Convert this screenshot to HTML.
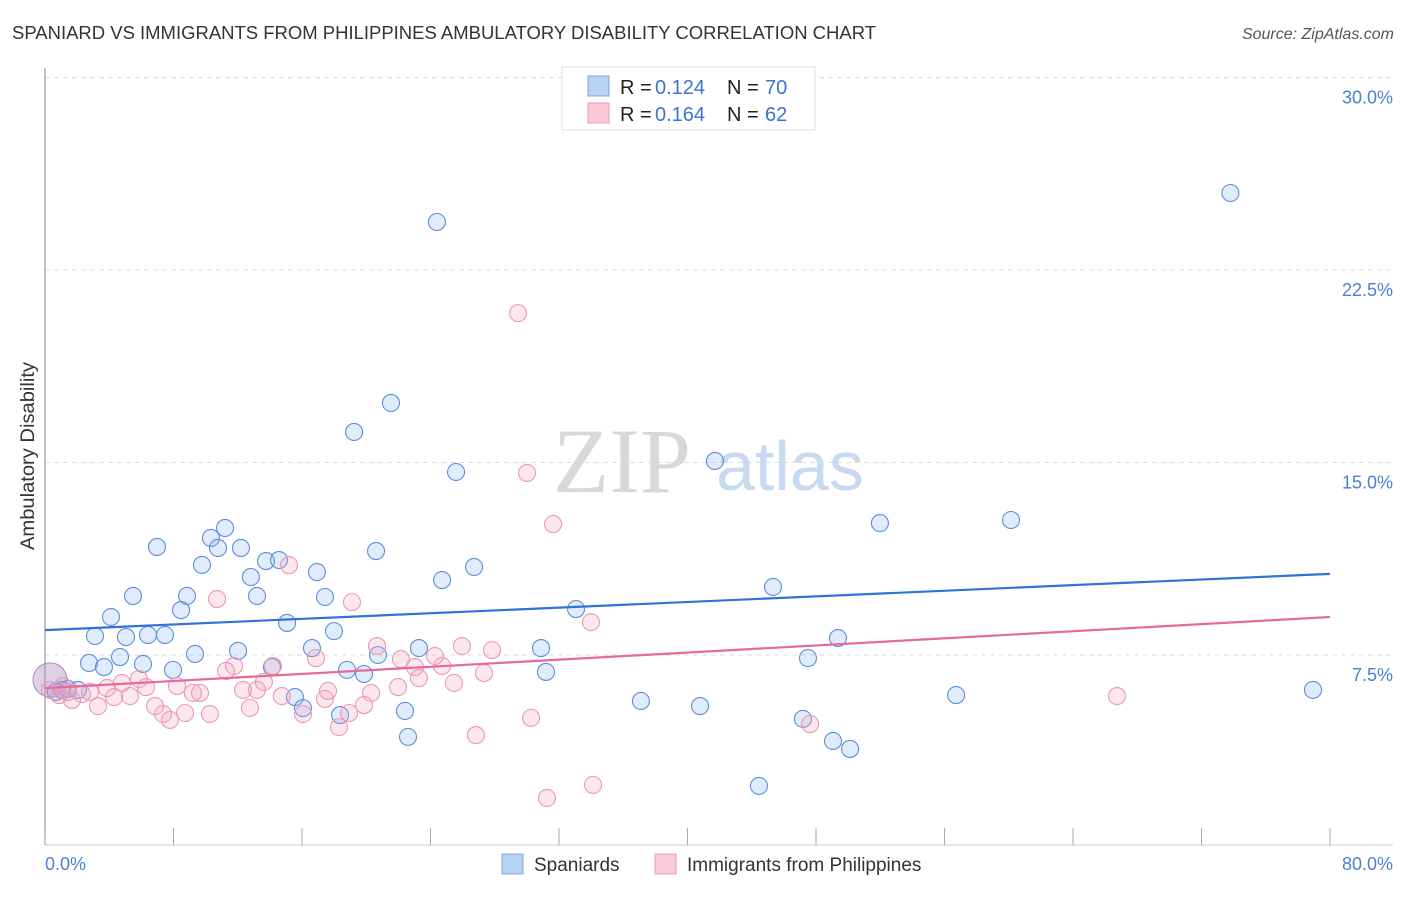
<!DOCTYPE html>
<html><head><meta charset="utf-8"><style>
body{margin:0;background:#fff;font-family:"Liberation Sans",sans-serif;}
svg text{font-family:"Liberation Sans",sans-serif;}
</style></head><body>
<svg id="chart" width="1406" height="892" xmlns="http://www.w3.org/2000/svg">
<text x="12" y="39" font-size="18.6" fill="#333" textLength="864" lengthAdjust="spacingAndGlyphs">SPANIARD VS IMMIGRANTS FROM PHILIPPINES AMBULATORY DISABILITY CORRELATION CHART</text>
<text x="1394" y="39" font-size="16" fill="#555" text-anchor="end" font-style="italic">Source: ZipAtlas.com</text>
<g id="grid"></g>
<text x="553" y="492" font-size="92" fill="#d8d8d8" font-family="Liberation Serif" style="font-family:'Liberation Serif',serif">ZIP</text>
<text x="716" y="490" font-size="70" fill="#c8daf0">atlas</text>
<line x1="45" y1="68" x2="45" y2="845" stroke="#999" stroke-width="1.2"/>
<line x1="45" y1="845" x2="1393" y2="845" stroke="#ccc" stroke-width="1"/>
<text transform="translate(34,456) rotate(-90)" font-size="19" fill="#333" text-anchor="middle" textLength="188" lengthAdjust="spacingAndGlyphs">Ambulatory Disability</text>
<text x="45" y="870" font-size="18" fill="#4a7fd4">0.0%</text>
<text x="1393" y="870" font-size="18" fill="#4a7fd4" text-anchor="end">80.0%</text>
<g id="ticks"></g>
<g id="pts"></g>
<g id="trends"></g>
<g>
<rect x="562" y="67" width="253" height="63" fill="#fff" stroke="#ddd"/>
<rect x="588" y="76" width="21" height="20" fill="#b8d2f4" stroke="#7ba6e4"/>
<rect x="588" y="103" width="21" height="20" fill="#fbc8d7" stroke="#ee9ab4"/>
<g font-size="20">
<text x="620" y="94" fill="#222">R =</text><text x="655" y="94" fill="#3a74d0">0.124</text>
<text x="727" y="94" fill="#222">N =</text><text x="765" y="94" fill="#3a74d0">70</text>
</g>
<g font-size="20">
<text x="620" y="121" fill="#222">R =</text><text x="655" y="121" fill="#3a74d0">0.164</text>
<text x="727" y="121" fill="#222">N =</text><text x="765" y="121" fill="#3a74d0">62</text>
</g>
</g>
<rect x="502" y="854" width="21" height="20" fill="#b8d2f4" stroke="#7ba6e4"/>
<text x="534" y="871" font-size="19" fill="#333">Spaniards</text>
<rect x="655" y="854" width="21" height="20" fill="#fbc8d7" stroke="#ee9ab4"/>
<text x="687" y="871" font-size="19" fill="#333">Immigrants from Philippines</text>
</svg>
<script>
const yTicks=[7.5,15,22.5,30];
const yTickLabels=["7.5%","15.0%","22.5%","30.0%"];
const xTicks=[0,8,16,24,32,40,48,56,64,72,80];
const blueX=[24.4,73.8,21.54,19.24,25.59,41.71,51.98,60.14,11.21,10.33,6.97,12.2,10.77,20.61,13.76,14.57,9.77,16.93,26.71,12.82,24.72,45.32,5.48,8.84,17.43,13.2,8.47,33.06,4.11,15.07,17.99,3.11,5.04,6.41,7.47,49.37,16.62,23.28,30.88,12.02,9.34,20.73,4.67,47.5,2.74,6.1,3.67,7.97,14.13,18.8,31.19,19.86,56.72,78.94,37.1,40.78,15.56,16.06,22.41,18.37,47.19,22.6,49.06,50.12,44.45,0.68,1.43,2.05,1.06];
const blueY=[24.37,25.5,17.32,16.19,14.63,15.06,12.64,12.76,12.45,12.06,11.71,11.67,11.67,11.55,11.16,11.2,11.01,10.73,10.93,10.54,10.42,10.15,9.8,9.8,9.76,9.8,9.25,9.29,8.98,8.75,8.43,8.24,8.2,8.28,8.28,8.16,7.77,7.77,7.77,7.66,7.54,7.5,7.42,7.38,7.19,7.15,7.03,6.92,7.03,6.92,6.84,6.76,5.94,6.14,5.71,5.51,5.86,5.43,5.32,5.16,5.01,4.31,4.15,3.84,2.4,6.06,6.18,6.14,6.14];
const pinkX=[29.45,30.01,31.63,15.19,10.71,19.11,33.99,20.67,25.96,27.83,16.87,22.16,24.28,11.77,14.19,23.03,24.72,11.27,27.33,5.85,4.79,13.63,23.28,8.22,6.29,3.86,12.33,13.2,17.62,20.3,21.98,25.46,66.74,2.8,9.65,9.21,5.29,4.3,14.75,0.87,1.68,6.85,3.3,12.76,19.86,17.43,8.72,16.06,7.35,10.27,18.93,7.78,18.3,30.26,47.63,26.83,31.25,34.12,1.43,0.31,2.3,1.12];
const pinkY=[20.82,14.59,12.6,11.0,9.68,9.56,8.78,7.85,7.85,7.69,7.38,7.34,7.46,7.07,7.07,7.03,7.07,6.88,6.8,6.56,6.41,6.45,6.6,6.29,6.25,6.21,6.14,6.14,6.1,6.02,6.25,6.41,5.9,6.06,6.02,6.02,5.9,5.86,5.9,5.94,5.75,5.51,5.51,5.44,5.55,5.79,5.24,5.2,5.2,5.2,5.24,4.97,4.69,5.05,4.81,4.38,1.93,2.44,6.06,6.14,5.98,6.29];
const bigPoint=[0.31,6.53];
const blueTrend=[8.47,10.66];
const pinkTrend=[6.21,8.98];
const X=v=>45+v/80*1285;
const Y=v=>847.5-v/7.5*192.5;
const NS="http://www.w3.org/2000/svg";
function mk(t,a,p){const e=document.createElementNS(NS,t);for(const k in a)e.setAttribute(k,a[k]);p.appendChild(e);return e;}
const grid=document.getElementById('grid');
yTicks.forEach((t,i)=>{
  const l=mk('line',{x1:45,x2:1393,y1:Y(t),y2:Y(t),stroke:'#ddd','stroke-dasharray':'5,4'},grid);
  
  
  const tx=mk('text',{x:1393,y:Y(t)+26,'font-size':18,fill:'#4a7fd4','text-anchor':'end'},grid);
  tx.textContent=yTickLabels[i];
  
  
});
const ticks=document.getElementById('ticks');
xTicks.forEach(t=>{
  const l=mk('line',{x1:X(t),x2:X(t),y1:828,y2:845,stroke:'#aaa'},ticks);
  
  
});
const pts=document.getElementById('pts');
const bp=mk('circle',{cx:X(bigPoint[0]),cy:Y(bigPoint[1]),r:17,fill:'rgba(170,140,190,0.4)',stroke:'#a889c0'},pts);


blueX.forEach((x,i)=>{
  const c=mk('circle',{cx:X(x),cy:Y(blueY[i]),r:8.5,fill:'rgba(130,175,240,0.25)',stroke:'#5b8fdb','stroke-width':1.1},pts);
  
  
});
pinkX.forEach((x,i)=>{
  const c=mk('circle',{cx:X(x),cy:Y(pinkY[i]),r:8.5,fill:'rgba(245,160,190,0.25)',stroke:'#ec98b3','stroke-width':1.1},pts);
  
  
});
const tr=document.getElementById('trends');
const b=mk('line',{x1:X(0),x2:X(80),y1:Y(blueTrend[0]),y2:Y(blueTrend[1]),stroke:'#2f74d6','stroke-width':2.2},tr);


const p=mk('line',{x1:X(0),x2:X(80),y1:Y(pinkTrend[0]),y2:Y(pinkTrend[1]),stroke:'#e5699a','stroke-width':2.2},tr);


</script>
</body></html>
